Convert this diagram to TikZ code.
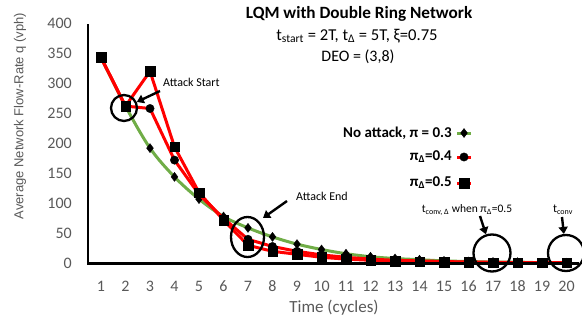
\documentclass[tikz,border=0pt]{standalone}
\usepackage{fontspec}
\setmainfont{Carlito}
\newfontfamily\arialfont{Liberation Sans}
\usetikzlibrary{arrows.meta,shapes.geometric,plotmarks}
\definecolor{tickgray}{HTML}{595959}
\definecolor{xlgreen}{HTML}{70AD47}
\definecolor{xlred}{HTML}{FF0000}
\tikzset{
  ring/.style={draw=black, line width=2.3pt, circle, inner sep=0pt},
  arr/.style={line width=2.4pt, -{Triangle[length=7pt,width=9pt]}},
  ticklab/.style={text=tickgray, font=\fontsize{16}{18}\selectfont, inner sep=0pt},
  annot/.style={font=\fontsize{12}{14}\selectfont, inner sep=0pt},
  legtext/.style={font=\fontsize{15}{17}\selectfont\bfseries, inner sep=0pt, anchor=east},
  greenser/.style={xlgreen, line width=3pt},
  redser/.style={xlred, line width=3pt},
  mk/.style={mark options={solid, fill=black, draw=black, line width=0.4pt}},
}
\begin{document}
\begin{tikzpicture}[x=1pt,y=-1pt]
\useasboundingbox (0,0) rectangle (582,324);
% title
\node[font=\fontsize{17.2}{19}\selectfont\bfseries, inner sep=0pt] (title) at (359,14) {LQM with Double Ring Network};
\node[font=\fontsize{16.6}{19}\selectfont, inner sep=0pt] (sub1) at (357,36) {t\textsubscript{start} = 2T, t\textsubscript{Δ} = 5T, ξ=0.75};
\node[font=\fontsize{16}{19}\selectfont, inner sep=0pt] (sub2) at (358,57) {DEO = (3,8)};
% y label
\node[rotate=90, text=tickgray, font=\arialfont\fontsize{13}{15}\selectfont, inner sep=0pt] (ylab) at (20,116) {Average Network Flow-Rate q (vph)};
% x label
\node[text=tickgray, font=\fontsize{17}{19}\selectfont, inner sep=0pt] (xlab) at (334,308) {Time (cycles)};
% y ticks
\foreach \v in {0,50,...,400}{
  \node[ticklab, anchor=east] (yt\v) at (72,{263.3-0.6*\v}) {\v};
}
% x ticks
\foreach \i in {1,...,20}{
  \node[ticklab] (xt\i) at ({76.5+24.5*\i},286) {\i};
}
% data
\begin{scope}[shift={(76.5,263.3)}, x=24.5pt, y=0.6pt]
\draw[greenser, mk, mark=diamond*, mark size=4.5pt] plot[smooth, tension=0.55] coordinates {
(1,343) (2,262) (3,192) (4,144) (5,107) (6,78) (7,59) (8,44) (9,32) (10,23) (11,16) (12,11) (13,8) (14,6) (15,4) (16,3) (17,2) (18,2) (19,1) (20,1)};
\draw[redser, mk, mark=*, mark size=4.2pt] plot coordinates {
(1,343) (2,262) (3,258) (4,172) (5,115) (6,75) (7,40) (8,28) (9,20) (10,14) (11,10) (12,7) (13,5) (14,4) (15,3) (16,2) (17,2) (18,1) (19,1) (20,1)};
\draw[redser, mk, mark=square*, mark size=4.8pt] plot coordinates {
(1,343) (2,262) (3,320) (4,194) (5,118) (6,72) (7,30) (8,20) (9,15) (10,10) (11,7) (12,5) (13,4) (14,3) (15,2) (16,2) (17,1) (18,1) (19,1) (20,1)};
\end{scope}
% axes
\draw[line width=2.5pt, line join=miter] (88,24) -- (88,263.3) -- (579,263.3);
% legend
\node[legtext] (l1) at (452,133) {No attack, π = 0.3};
\node[legtext] (l2) at (452,157) {π\textsubscript{Δ}=0.4};
\node[legtext] (l3) at (452,183) {π\textsubscript{Δ}=0.5};
\draw[greenser] (457,133) -- (471,133);
\draw[greenser, mk, mark=diamond*, mark size=4.5pt] plot coordinates {(464,133)};
\draw[redser] (457,157) -- (471,157);
\draw[redser, mk, mark=*, mark size=4.2pt] plot coordinates {(464,157)};
\draw[redser] (457,183) -- (471,183);
\draw[redser, mk, mark=square*, mark size=4.8pt] plot coordinates {(464,183)};
% annotations
\node[ring, minimum size=26pt] (cstart) at (124,108) {};
\node[annot, anchor=west] (tstart) at (163,82) {Attack Start};
\coordinate (astart) at (160,91);
\draw[arr] (astart) -- (cstart);
\node[draw=black, line width=2.3pt, ellipse, inner sep=0pt, minimum width=33pt, minimum height=40pt] (cend) at (247.5,237) {};
\node[annot, anchor=west] (tend) at (296,196) {Attack End};
\coordinate (aend1) at (287,201);
\coordinate (aend2) at (263,218);
\draw[arr] (aend1) -- (aend2);
\node[ring, minimum size=37pt] (cconvd) at (492,253) {};
\node[annot, font=\fontsize{11.5}{13}\selectfont] (tconvd) at (467,210) {t\textsubscript{conv, Δ} when π\textsubscript{Δ}=0.5};
\coordinate (aconvd) at (480,216);
\draw[arr] (aconvd) -- (cconvd);
\node[ring, minimum size=36pt] (cconv) at (566,253) {};
\node[annot] (tconv) at (563,210) {t\textsubscript{conv}};
\coordinate (aconv) at (562,217);
\draw[arr] (aconv) -- (cconv);
\end{tikzpicture}
\end{document}
